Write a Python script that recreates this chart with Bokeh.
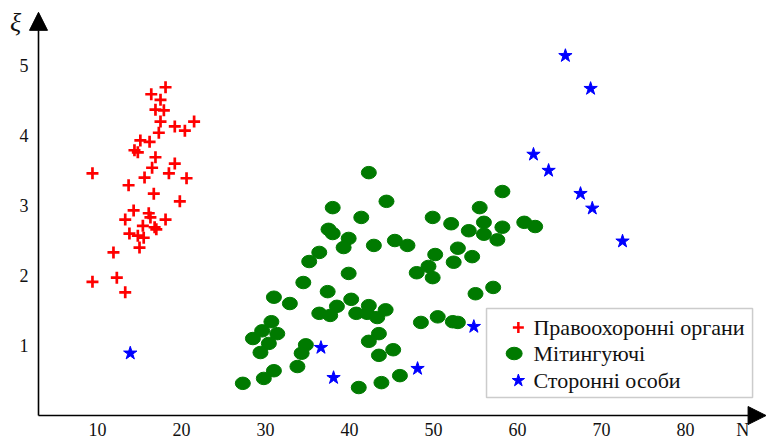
from bokeh.plotting import figure
from bokeh.models import Arrow, NormalHead, Range1d
from bokeh.core.properties import value
from bokeh.embed import file_html
from bokeh.resources import INLINE

# ---------------- data ----------------
police_x = [18.1, 16.4, 17.5, 16.9, 17.9, 17.5, 19.2, 20.4, 21.5, 17.3,
            15.1, 16.2, 14.4, 14.8, 16.9, 19.2, 16.5, 9.4, 18.5, 15.6,
            20.6, 13.7, 16.7, 19.8, 14.3, 16.1, 16.3, 13.3, 18.1, 15.4,
            16.8, 17.0, 13.8, 14.8, 15.5, 15.0, 11.9, 9.4, 12.3, 13.3]
police_y = [4.69, 4.59, 4.51, 4.37, 4.36, 4.20, 4.13, 4.07, 4.20, 4.04,
            3.93, 3.91, 3.79, 3.76, 3.69, 3.60, 3.54, 3.46, 3.46, 3.40,
            3.39, 3.29, 3.17, 3.06, 2.93, 2.89, 2.83, 2.80, 2.80, 2.71,
            2.69, 2.66, 2.60, 2.57, 2.54, 2.40, 2.33, 1.91, 1.97, 1.76]

protest_x = [42.3, 44.4, 38.0, 41.4, 37.5, 38.0, 39.9, 39.3, 42.9, 45.4,
             46.9, 36.4, 35.2, 39.9, 34.5, 37.4, 31.0, 32.9, 40.2, 38.5,
             36.4, 37.7, 40.8, 42.3, 42.1, 43.3, 44.3, 30.7, 29.6, 28.5,
             31.4, 30.4, 29.4, 43.5, 42.3, 34.8, 34.3, 33.8, 31.0, 29.8,
             27.3, 43.5, 45.2, 41.1, 43.8, 46.0, 48.5, 50.5, 52.3, 52.9,
             48.0, 49.4, 49.9, 50.2, 52.4, 52.9, 54.6, 55.0, 57.1, 49.9,
             52.1, 54.2, 55.5, 56.0, 56.0, 58.2, 58.2, 57.6, 60.8, 62.1]
protest_y = [3.47, 3.06, 2.97, 2.83, 2.66, 2.60, 2.53, 2.40, 2.43, 2.50,
             2.43, 2.33, 2.20, 2.03, 1.90, 1.77, 1.69, 1.60, 1.66, 1.56,
             1.46, 1.43, 1.46, 1.57, 1.46, 1.40, 1.51, 1.34, 1.21, 1.10,
             1.17, 1.03, 0.90, 1.17, 1.06, 1.01, 0.89, 0.70, 0.64, 0.53,
             0.46, 0.86, 0.94, 0.40, 0.47, 0.57, 1.33, 1.41, 1.34, 1.33,
             2.04, 2.13, 1.97, 2.30, 2.19, 2.39, 2.27, 1.74, 1.83, 2.83,
             2.74, 2.64, 2.97, 2.76, 2.59, 3.20, 2.69, 2.51, 2.76, 2.70]

others_x = [65.7, 68.7, 61.9, 63.7, 67.5, 68.9, 72.5, 13.9, 36.6, 38.1, 48.1, 54.8]
others_y = [5.14, 4.67, 3.73, 3.50, 3.17, 2.96, 2.49, 0.89, 0.97, 0.54, 0.67, 1.27]

series_names = ["Правоохоронні органи", "Мітингуючі", "Сторонні особи"]

x_ticks = [10, 20, 30, 40, 50, 60, 70, 80]
x_tick_labels = ["10", "20", "30", "40", "50", "60", "70", "80"]
y_ticks = [1, 2, 3, 4, 5]
y_tick_labels = ["1", "2", "3", "4", "5"]
x_axis_name = "N"
y_axis_name = "ξ"

# ---------------- layout constants ----------------
X0, X1 = -1.548, 89.64
Y0, Y1 = -0.371, 5.929
AXIS_X = 2.976       # where the vertical axis sits (data units)
XLAB_Y = -0.2        # baseline of the x tick labels
FAMILY = "Liberation Serif"
FONT = value(FAMILY)
RED, GREEN, BLUE = "#ff0000", "#007a00", "#0000ff"

# legend placement (data units)
LEG_BOX = dict(left=56.31, right=87.98, bottom=0.257, top=1.529)
LEG_ROWS = [1.257, 0.886, 0.50]
LEG_MARK_X = 60.1
LEG_TEXT_X = 61.9

p = figure(width=766, height=441, x_range=Range1d(X0, X1), y_range=Range1d(Y0, Y1),
           x_axis_type=None, y_axis_type=None, output_backend="svg",
           toolbar_location=None, min_border=0, outline_line_color=None)
p.background_fill_color = "white"
p.border_fill_color = "white"

p.scatter(police_x, police_y, marker="cross", size=12,
          line_color=RED, line_width=2.7)
p.ellipse(x=protest_x, y=protest_y, width=15, height=12.5,
          width_units="screen", height_units="screen",
          fill_color=GREEN, line_color=GREEN)
p.scatter(others_x, others_y, marker="star", size=14,
          fill_color=BLUE, line_color=BLUE)

# axes with arrows
p.add_layout(Arrow(end=NormalHead(size=18, fill_color="black", line_color="black"),
                   x_start=AXIS_X, y_start=0, x_end=X1 - 0.05, y_end=0,
                   line_width=1.6, line_color="black"))
p.add_layout(Arrow(end=NormalHead(size=18, fill_color="black", line_color="black"),
                   x_start=AXIS_X, y_start=0, x_end=AXIS_X, y_end=5.76,
                   line_width=1.6, line_color="black"))

# tick labels
p.text(x=x_ticks, y=[XLAB_Y] * len(x_ticks), text=x_tick_labels,
       text_font=FONT, text_font_size="18px", text_color="#111111",
       text_align="center", text_baseline="alphabetic")
p.text(x=[1.8] * len(y_ticks), y=y_ticks, text=y_tick_labels,
       text_font=FONT, text_font_size="18px", text_color="#111111",
       text_align="right", text_baseline="middle")
p.text(x=[86.8], y=[XLAB_Y], text=[x_axis_name],
       text_font=FONT, text_font_size="18px", text_color="#111111",
       text_align="center", text_baseline="alphabetic")
p.text(x=[0.24], y=[5.61], text=[y_axis_name],
       text_font=FONT, text_font_size="26px", text_font_style="italic",
       text_color="#111111", text_align="center", text_baseline="middle")

# legend (drawn with the plot's own glyphs so the serif font is honoured)
p.quad(left=[LEG_BOX["left"]], right=[LEG_BOX["right"]],
       bottom=[LEG_BOX["bottom"]], top=[LEG_BOX["top"]],
       fill_color="white", line_color="#cccccc", line_width=1.5)
p.scatter([LEG_MARK_X], [LEG_ROWS[0]], marker="cross", size=11,
          line_color=RED, line_width=2.5)
p.ellipse(x=[LEG_MARK_X - 0.5], y=[LEG_ROWS[1]], width=16, height=12.5,
          width_units="screen", height_units="screen",
          fill_color=GREEN, line_color=GREEN)
p.scatter([LEG_MARK_X], [LEG_ROWS[2]], marker="star", size=13,
          fill_color=BLUE, line_color=BLUE)
p.text(x=[LEG_TEXT_X] * 3, y=LEG_ROWS, text=series_names,
       text_font=FONT, text_font_size="22px", text_color="#111111",
       text_align="left", text_baseline="middle")

open("out.html", "w").write(file_html(p, INLINE))
